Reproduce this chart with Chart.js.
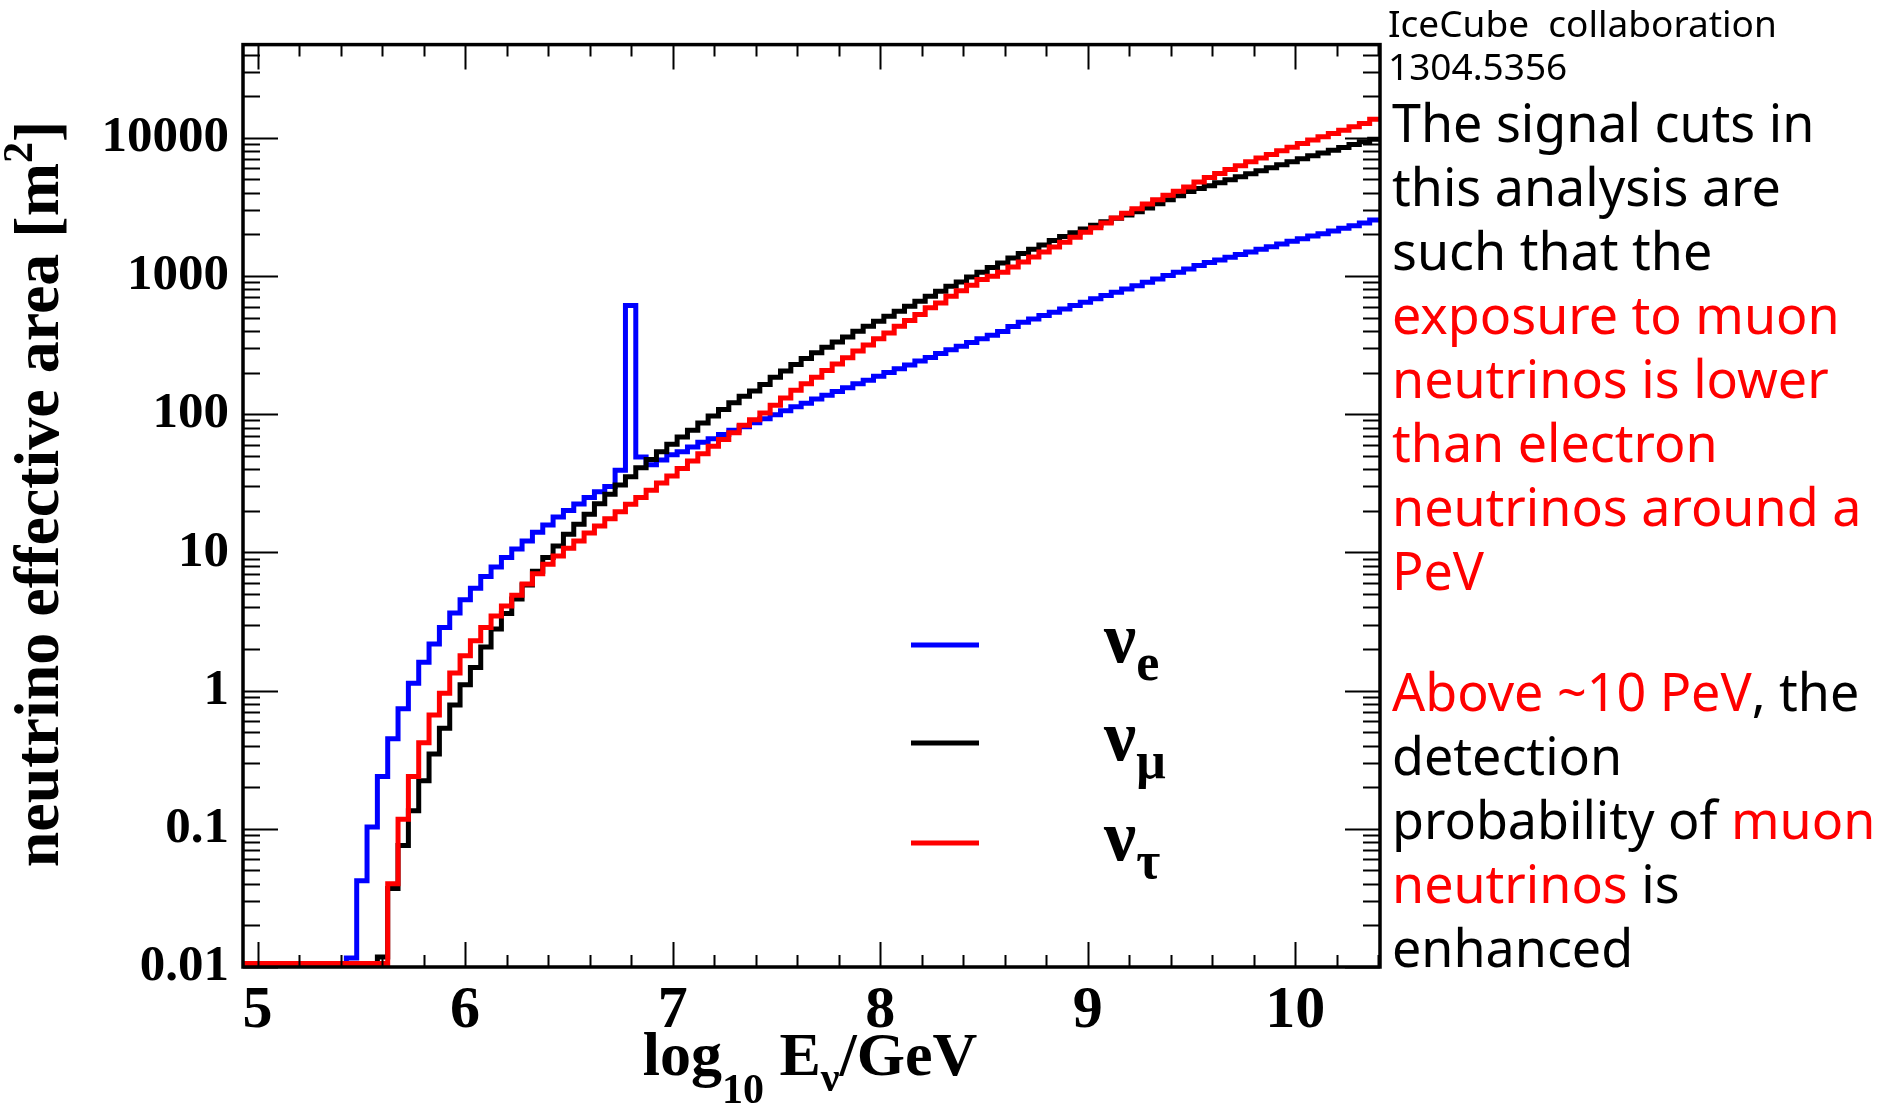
<!DOCTYPE html>
<html>
<head>
<meta charset="utf-8">
<script src="https://cdn.jsdelivr.net/npm/chart.js@4.4.1/dist/chart.umd.min.js"></script>
<style>
  html, body { margin: 0; padding: 0; background: #fff; }
  #wrap { width: 1888px; height: 1114px; position: relative; }
</style>
</head>
<body>
<div id="wrap"><canvas id="chart"></canvas></div>
<script>
// histogram binning in log10(E/GeV)
const binStart = 4.93;
const binWidth = 0.0498;

// effective area per bin [m^2] (0 = empty bin)
const nuE = [
  0, 0, 0, 0, 0, 0, 0, 0, 0, 0,
  0.0116, 0.042, 0.103, 0.239, 0.449, 0.74, 1.13, 1.60, 2.17, 2.86,
  3.64, 4.55, 5.51, 6.68, 7.85, 9.17, 10.6, 12.1, 14.0, 15.8,
  18.0, 20.1, 22.4, 24.9, 27.4, 30.0, 39.2, 611, 49.0, 43.0,
  46.6, 50.9, 53.5, 57.8, 62.5, 66.4, 71.4, 76.4, 81.1, 86.5,
  92.7, 99, 106, 113, 120, 129, 137, 146, 155, 166,
  176, 188, 200, 213, 227, 242, 257, 275, 292, 310,
  330, 351, 372, 396, 430, 462, 489, 517, 547, 577,
  611, 646, 683, 721, 762, 805, 851, 899, 951, 1006,
  1064, 1124, 1192, 1250, 1306, 1366, 1429, 1491, 1559, 1630,
  1702, 1781, 1862, 1946, 2024, 2115, 2211, 2311, 2415, 2540
];
const nuMu = [
  0, 0, 0, 0, 0, 0, 0, 0, 0, 0,
  0, 0, 0, 0.0118, 0.037, 0.0757, 0.135, 0.223, 0.348, 0.533,
  0.787, 1.10, 1.47, 2.07, 2.79, 3.61, 4.6, 5.8, 7.3, 9.2,
  11.1, 13.5, 16.0, 18.9, 22.5, 26.3, 30.7, 35.3, 41.0, 46.9,
  53.5, 60.5, 68.3, 76.4, 86.3, 96.9, 108, 121, 135, 147,
  164, 185, 205, 229, 253, 278, 305, 333, 362, 398,
  433, 471, 511, 555, 604, 656, 713, 774, 841, 905,
  984, 1062, 1150, 1240, 1349, 1451, 1561, 1675, 1803, 1926,
  2057, 2186, 2323, 2470, 2612, 2760, 2918, 3098, 3334, 3565,
  3812, 4076, 4295, 4500, 4730, 4975, 5228, 5495, 5772, 6066,
  6376, 6711, 7052, 7413, 7745, 8134, 8508, 8946, 9355, 9750
];
const nuTau = [
  0, 0, 0, 0, 0, 0, 0, 0, 0, 0,
  0, 0, 0, 0, 0.040, 0.117, 0.239, 0.42, 0.667, 0.955,
  1.34, 1.79, 2.29, 2.86, 3.47, 4.1, 4.9, 5.9, 7.0, 8.2,
  9.4, 10.7, 12.1, 13.8, 15.5, 17.5, 19.7, 22.3, 24.9, 28.1,
  31.8, 35.7, 40.4, 45.8, 51.8, 58.5, 65.7, 73.4, 83.0, 91,
  102, 116, 131, 149, 166, 185, 207, 231, 256, 286,
  316, 351, 387, 433, 476, 526, 588, 638, 713, 783,
  857, 942, 995, 1064, 1161, 1262, 1371, 1490, 1619, 1750,
  1902, 2068, 2237, 2418, 2627, 2840, 3070, 3318, 3565, 3831,
  4094, 4400, 4790, 5163, 5517, 5897, 6276, 6711, 7129, 7573,
  8047, 8551, 9097, 9618, 10170, 10740, 11350, 12000, 12680, 13600
];

const xMin = 4.93;
const xMax = 10.408;
const yMin = 0.01;
const yMax = 47200;
const xTicks = [5, 6, 7, 8, 9, 10];
const xTickLabels = ["5", "6", "7", "8", "9", "10"];
const yTicks = [0.01, 0.1, 1, 10, 100, 1000, 10000];
const yTickLabels = ["0.01", "0.1", "1", "10", "100", "1000", "10000"];

const legendItems = [
  { sub: "e", color: "#0000ff" },
  { sub: "\u03bc", color: "#000000" },
  { sub: "\u03c4", color: "#ff0000" }
];

const noteSmall = ["IceCube  collaboration", "1304.5356"];
const noteLines = [
  [["The signal cuts in", "#000"]],
  [["this analysis are", "#000"]],
  [["such that the", "#000"]],
  [["exposure to muon", "#f00"]],
  [["neutrinos is lower", "#f00"]],
  [["than electron", "#f00"]],
  [["neutrinos around a", "#f00"]],
  [["PeV", "#f00"]],
  null,
  [["Above ~10 PeV", "#f00"], [", the", "#000"]],
  [["detection", "#000"]],
  [["probability of ", "#000"], ["muon", "#f00"]],
  [["neutrinos", "#f00"], [" is", "#000"]],
  [["enhanced", "#000"]]
];

const SERIF = "'Liberation Serif', 'Times New Roman', serif";
const NOTE_FONT = "'Comic Sans MS', 'Noto Sans', sans-serif";
const yFloor = yMin * 1.06; // empty bins are drawn on the axis, as ROOT does

function toPoints(vals) {
  const pts = vals.map((v, i) => ({ x: binStart + i * binWidth, y: Math.max(v, yFloor) }));
  pts.push({ x: binStart + vals.length * binWidth, y: Math.max(vals[vals.length - 1], yFloor) });
  return pts;
}

function histo(vals, color, order) {
  return {
    data: toPoints(vals),
    borderColor: color,
    borderWidth: 5,
    stepped: "before",   // horizontal to the next edge, then vertical
    pointRadius: 0,
    fill: false,
    order: order,
    borderJoinStyle: "miter"
  };
}

// draw a run of [text, font, dy] pieces from x along a baseline
function drawPieces(ctx, pieces, x, y) {
  pieces.forEach(p => {
    ctx.font = p[1];
    ctx.fillText(p[0], x, y + (p[2] || 0));
    x += ctx.measureText(p[0]).width;
  });
}
function piecesWidth(ctx, pieces) {
  let w = 0;
  pieces.forEach(p => { ctx.font = p[1]; w += ctx.measureText(p[0]).width; });
  return w;
}

const decorations = {
  id: "decorations",
  afterDraw(chart) {
    const ctx = chart.ctx;
    const { left, right, top, bottom } = chart.chartArea;
    const xs = chart.scales.x, ys = chart.scales.y;
    ctx.save();

    // tick marks inside the frame
    ctx.strokeStyle = "#000";
    ctx.lineWidth = 2;
    ctx.beginPath();
    for (let v = 5; v <= xMax + 1e-9; v += 0.2) {
      const major = Math.abs(v - Math.round(v)) < 1e-6;
      const len = major ? 25 : 12;
      const px = Math.round(xs.getPixelForValue(v)) + 0.5;
      ctx.moveTo(px, bottom); ctx.lineTo(px, bottom - len);
      ctx.moveTo(px, top); ctx.lineTo(px, top + len);
    }
    for (let d = yMin; d < yMax; d *= 10) {
      for (let k = 1; k <= 9; k++) {
        const v = d * k;
        if (v > yMax) break;
        const len = k === 1 ? 35 : 17;
        const py = Math.round(ys.getPixelForValue(v)) + 0.5;
        ctx.moveTo(left, py); ctx.lineTo(left + len, py);
        ctx.moveTo(right, py); ctx.lineTo(right - len, py);
      }
    }
    ctx.stroke();

    // frame
    ctx.lineWidth = 3.5;
    ctx.strokeRect(left, top, right - left, bottom - top);

    // axis titles
    ctx.fillStyle = "#000";
    ctx.textBaseline = "alphabetic";
    ctx.textAlign = "left";
    const big = "bold 62px " + SERIF, sub = "bold 42px " + SERIF;
    const xt = [["log", big], ["10", sub, 28], [" E", big], ["\u03bd", sub, 16], ["/GeV", big]];
    drawPieces(ctx, xt, 810 - piecesWidth(ctx, xt) / 2, 1075);

    ctx.save();
    ctx.translate(58, 494);
    ctx.rotate(-Math.PI / 2);
    const ybig = "bold 64px " + SERIF, ysup = "bold 42px " + SERIF;
    const yt = [["neutrino effective area [m", ybig], ["2", ysup, -26], ["]", ybig]];
    drawPieces(ctx, yt, -piecesWidth(ctx, yt) / 2, 0);
    ctx.restore();

    // legend
    const legY = [645, 743, 843];
    legendItems.forEach((it, i) => {
      ctx.strokeStyle = it.color;
      ctx.lineWidth = 5;
      ctx.beginPath();
      ctx.moveTo(911, legY[i]); ctx.lineTo(979, legY[i]);
      ctx.stroke();
      ctx.fillStyle = "#000";
      drawPieces(ctx, [["\u03bd", "bold 72px " + SERIF], [it.sub, "bold 52px " + SERIF, 18]], 1104, legY[i] + 17);
    });

    // note on the right
    ctx.fillStyle = "#000";
    ctx.font = "37px " + NOTE_FONT;
    ctx.fillText(noteSmall[0], 1388, 37);
    ctx.fillText(noteSmall[1], 1388, 80);
    const noteFont = "52px " + NOTE_FONT;
    let y = 142;
    noteLines.forEach(line => {
      if (line) {
        let x = 1392;
        line.forEach(seg => {
          ctx.font = noteFont;
          ctx.fillStyle = seg[1];
          ctx.fillText(seg[0], x, y);
          x += ctx.measureText(seg[0]).width;
        });
      }
      y += line ? 64 : 57;
    });

    ctx.restore();
  }
};

new Chart(document.getElementById("chart"), {
  type: "line",
  data: {
    datasets: [
      histo(nuTau, "#ff0000", 0),
      histo(nuMu, "#000000", 1),
      histo(nuE, "#0000ff", 2)
    ]
  },
  options: {
    responsive: true,
    maintainAspectRatio: false,
    animation: false,
    devicePixelRatio: 1,
    layout: { padding: { top: 43, right: 508, left: 0, bottom: 0 } },
    plugins: { legend: { display: false }, tooltip: { enabled: false } },
    scales: {
      x: {
        type: "linear",
        min: xMin,
        max: xMax,
        afterBuildTicks: s => { s.ticks = xTicks.map(v => ({ value: v })); },
        afterFit: s => { s.height = 147; },
        ticks: {
          callback: (v, i) => xTickLabels[i],
          color: "#000",
          font: { family: SERIF, weight: "bold", size: 60 },
          padding: 8,
          maxRotation: 0,
          autoSkip: false
        },
        grid: { display: false, drawTicks: false },
        border: { display: false }
      },
      y: {
        type: "logarithmic",
        min: yMin,
        max: yMax,
        afterBuildTicks: s => { s.ticks = yTicks.map(v => ({ value: v })); },
        afterFit: s => { s.width = 243; },
        ticks: {
          callback: (v, i) => yTickLabels[i],
          color: "#000",
          font: { family: SERIF, weight: "bold", size: 51 },
          padding: 14,
          autoSkip: false
        },
        grid: { display: false, drawTicks: false },
        border: { display: false }
      }
    }
  },
  plugins: [decorations]
});
</script>
</body>
</html>
